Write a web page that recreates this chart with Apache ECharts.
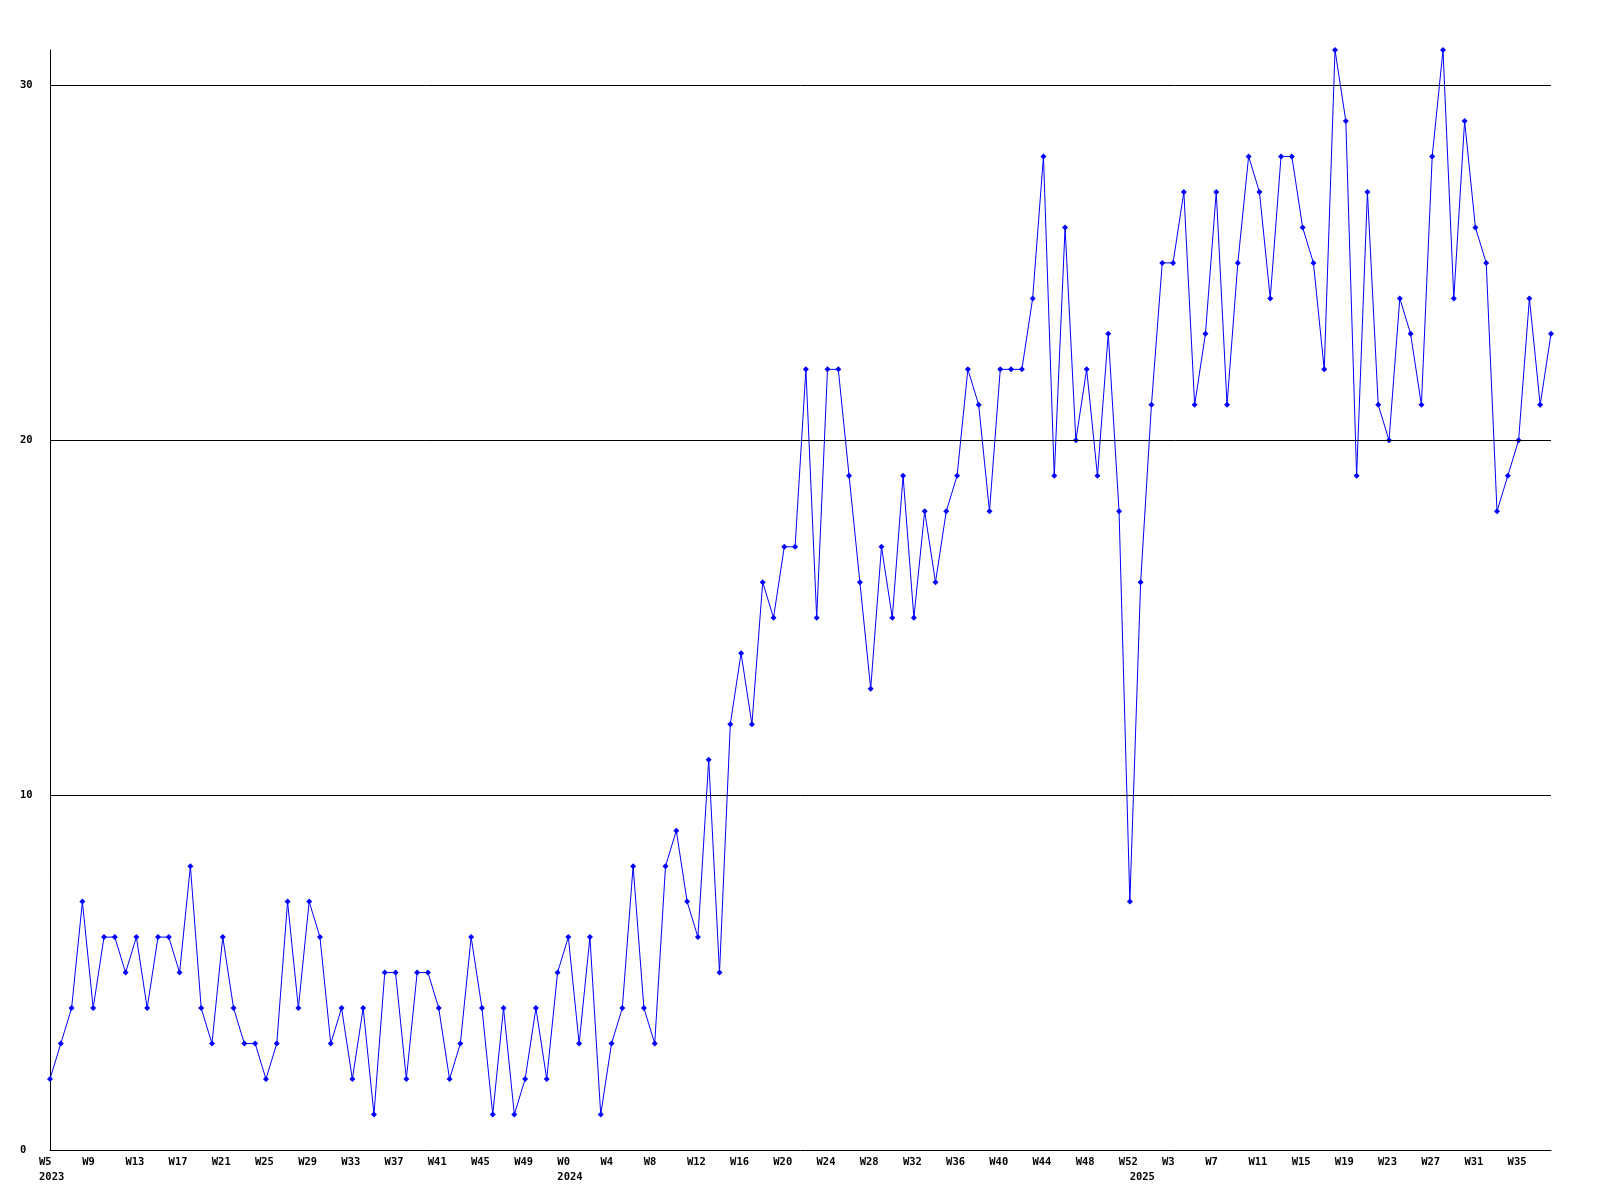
<!DOCTYPE html>
<html>
<head>
<meta charset="utf-8">
<script src="https://cdn.jsdelivr.net/npm/echarts@6/dist/echarts.min.js"></script>
<style>
html,body{margin:0;padding:0;background:#fff;}
#chart{width:1600px;height:1200px;}
</style>
</head>
<body>
<div id="chart"></div>
<script>
// weekly values, W5 2023 .. W38 2025
const values = [
  2,3,4,7,4,6,6,5,6,4, 6,6,5,8,4,3,6,4,3,3, 2,3,7,4,7,6,3,4,2,4,
  1,5,5,2,5,5,4,2,3,6, 4,1,4,1,2,4,2,5,
  6,3,6,1,3,4,8,4,3,8,9,7,6,
  11,5,12,14,12,16,15,17,17,22,15,22,22,19,16,13,17,15,19,15,18,16,18,19,22,21,18,22,22,22,24,28,19,
  26,20,22,19,23,18,7,16,21,25,25,27,21,23,27,21,25,28,
  27,24,28,28,26,25,22,31,29,19,27,21,20,24,23,21,28,31,24,29,26,25,18,19,20,24,21,23
];
// week ranges per year (category labels)
const years = ['2023', '2024', '2025'];
const firstWeek = [5, 0, 0];
const lastWeek = [52, 52, 38];
const yTicks = [0, 10, 20, 30];

const weekNames = [], yearOf = [], yearStart = {};
years.forEach((y, k) => {
  for (let w = firstWeek[k]; w <= lastWeek[k]; w++) {
    if (w === firstWeek[k]) yearStart[weekNames.length] = y;
    weekNames.push('W' + w);
    yearOf.push(y);
  }
});
const categories = weekNames.map((w, i) => yearOf[i] + ' ' + w);

const FONT = 'DejaVu Sans Mono';
const chart = echarts.init(document.getElementById('chart'), null, {renderer: 'canvas'});
chart.setOption({
  animation: false,
  backgroundColor: '#ffffff',
  grid: {left: 50, right: 49, top: 50, bottom: 50, containLabel: false},
  xAxis: {
    type: 'category',
    data: categories,
    boundaryGap: false,
    axisLine: {show: true, lineStyle: {color: '#000', width: 1}},
    axisTick: {show: false},
    splitLine: {show: false},
    axisLabel: {
      interval: (i) => (i % 4 === 0 || yearStart[i] !== undefined),
      margin: 5,
      hideOverlap: false,
      formatter: (val, i) => {
        const w = (i % 4 === 0) ? weekNames[i] : ' ';
        const y = yearStart[i];
        return y !== undefined ? '{w|' + w + '}\n{w|' + y + '}' : '{w|' + w + '}';
      },
      rich: {
        w: {width: 22, align: 'left', fontFamily: FONT, fontSize: 10.5, fontWeight: 'bold', color: '#000', lineHeight: 15}
      }
    }
  },
  yAxis: {
    type: 'value',
    min: 0,
    max: 31,
    interval: 10,
    axisLine: {show: true, lineStyle: {color: '#000', width: 1}},
    axisTick: {show: false},
    splitLine: {show: false},
    axisLabel: {
      align: 'left',
      margin: 30,
      fontFamily: FONT,
      fontSize: 10.5,
      fontWeight: 'bold',
      color: '#000',
      formatter: (v) => (yTicks.indexOf(v) >= 0 ? String(v) : '')
    }
  },
  series: [{
    type: 'line',
    data: values,
    symbol: 'diamond',
    symbolSize: 6,
    showAllSymbol: true,
    lineStyle: {color: '#0000ff', width: 1},
    itemStyle: {color: '#0000ff'},
    markLine: {
      silent: true,
      symbol: ['none', 'none'],
      label: {show: false},
      lineStyle: {color: '#000', width: 1, type: 'solid'},
      data: yTicks.filter(t => t > 0).map(t => ({yAxis: t}))
    },
    z: 3
  }]
});
</script>
</body>
</html>
